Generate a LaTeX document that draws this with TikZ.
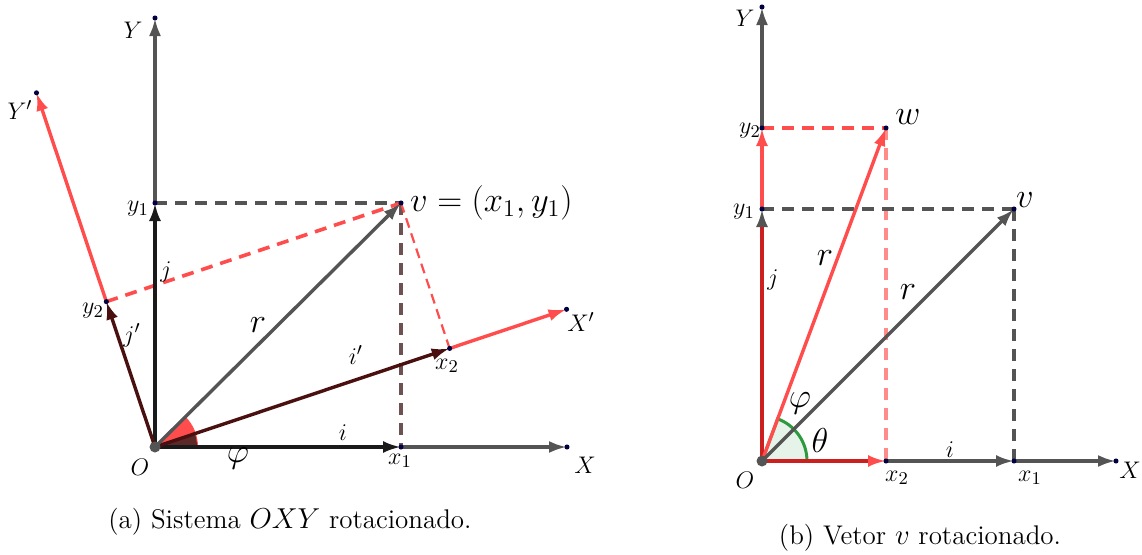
\documentclass[tikz,border=0pt]{standalone}
\usepackage{amsmath,amssymb}
\usetikzlibrary{arrows.meta,positioning,calc}
\definecolor{cinza}{HTML}{545454}
\definecolor{preto}{HTML}{1A1A1A}
\definecolor{vinho}{HTML}{4A1010}
\definecolor{verm}{HTML}{FF4D4D}
\definecolor{vermesc}{HTML}{CC1F1F}
\definecolor{marrom}{HTML}{6E5252}
\definecolor{verde}{HTML}{2E9A3E}
\tikzset{
  ponto/.style={circle,fill=black!75!blue,inner sep=0.9pt},
  seta/.style={-{Latex[length=9pt,width=6pt]}},
  eixo/.style={line width=1.8pt,draw=cinza},
  vet/.style={line width=1.7pt},
  trac/.style={line width=1.8pt,dash pattern=on 6pt off 4pt},
  peq/.style={font=\fontsize{13}{15}\selectfont},
  gde/.style={font=\fontsize{17}{20}\selectfont},
  leg/.style={font=\fontsize{13.5}{16}\selectfont},
}
\begin{document}
\begin{tikzpicture}[x=0.5pt,y=0.5pt]
  \useasboundingbox (0,0) rectangle (1142,554);
  % (a) sistema rotacionado
  \coordinate (O) at (155,107);
  \coordinate (X) at (567,107);
  \coordinate (Y) at (155,536);
  \coordinate (x1) at (401,107);
  \coordinate (y1) at (155,351);
  \coordinate (v) at (401,351);
  \begin{scope}[shift={(O)},rotate=18.5]
    \coordinate (x2) at (310.7,0);
    \coordinate (Xl) at (434,0);
    \coordinate (y2) at (0,153.3);
    \coordinate (Yl) at (0,373.5);
  \end{scope}
  \draw[eixo,seta] (y1) -- (Y);
  \draw[eixo,seta] (x1) -- (X);
  \draw[vet,verm,seta] (y2) -- (Yl);
  \draw[vet,verm,seta] (x2) -- (Xl);
  \draw[trac,cinza] (y1) -- (v);
  \draw[trac,marrom] (v) -- (x1);
  \draw[trac,verm] (y2) -- (v);
  \draw[verm,line width=1.1pt,dash pattern=on 5pt off 3pt] (v) -- (x2);
  \fill[verm,draw=verm,line width=1pt] (O) -- ++(42,0) arc[start angle=0,end angle=45,radius=42] -- cycle;
  \fill[vinho!90] (O) -- ++(42,0) arc[start angle=0,end angle=18.5,radius=42] -- cycle;
  \draw[vet,preto,seta] (O) -- (y1);
  \draw[vet,preto,seta] (O) -- (x1);
  \draw[vet,vinho,seta] (O) -- (x2);
  \draw[vet,vinho,seta] (O) -- (y2);
  \draw[vet,cinza,seta] (O) -- (v);
  \fill[cinza] (O) circle (5.5);
  \foreach \p in {X,Y,x1,y1,v,x2,y2,Xl,Yl} \node[ponto] at (\p) {};
  \node[peq] (lY) at (133,524) {$Y$};
  \node[peq] (lYl) at (20,444) {$Y'$};
  \node[peq] (ly1) at (138,345) {$y_1$};
  \node[gde,right=1pt of v] (lv) {$v=(x_1,y_1)$};
  \node[peq] (lj) at (166,282) {$j$};
  \node[peq] (ly2) at (93,243) {$y_2$};
  \node[peq] (ljl) at (132,219) {$j'$};
  \node[gde] (lr) at (258,229) {$r$};
  \node[peq] (lil) at (356,199) {$i'$};
  \node[peq] (lx2) at (447,188) {$x_2$};
  \node[peq] (lXl) at (581,232) {$X'$};
  \node[font=\fontsize{16}{18}\selectfont] (lphi) at (238,96) {$\varphi$};
  \node[peq] (li) at (343,121) {$i$};
  \node[peq] (lO) at (140,87) {$O$};
  \node[peq] (lx1) at (400,93) {$x_1$};
  \node[peq] (lX) at (585,89) {$X$};
  \node[leg] (capa) at (290,32) {(a) Sistema $OXY$ rotacionado.};
  % (b) vetor rotacionado
  \coordinate (O2) at (762,93);
  \coordinate (X2) at (1116,93);
  \coordinate (Y2) at (762,547);
  \coordinate (a1) at (1014,93);
  \coordinate (a2) at (886,93);
  \coordinate (b1) at (762,345);
  \coordinate (b2) at (762,426);
  \coordinate (v2) at (1014,345);
  \coordinate (w) at (886,426);
  \draw[eixo,seta] (a1) -- (X2);
  \draw[eixo,seta] (b2) -- (Y2);
  \draw[trac,verm] (b2) -- (w);
  \draw[trac,verm!65] (w) -- (a2);
  \draw[trac,cinza] (b1) -- (v2);
  \draw[trac,cinza] (v2) -- (a1);
  \fill[verde!12,draw=verde,line width=1.5pt] (O2) -- ++(45,0) arc[start angle=0,end angle=69.6,radius=45] -- cycle;
  \draw[vet,cinza,seta] (a2) -- (a1);
  \draw[vet,vermesc,-{Latex[length=9pt,width=6pt,color=verm]}] (O2) -- (a2);
  \draw[vet,verm,seta] (b1) -- (b2);
  \draw[vet,vermesc,-{Latex[length=9pt,width=6pt,color=cinza]}] (O2) -- (b1);
  \draw[vet,verm,seta] (O2) -- (w);
  \draw[vet,cinza,seta] (O2) -- (v2);
  \fill[cinza] (O2) circle (5.5);
  \foreach \p in {X2,Y2,a1,a2,b1,b2,v2,w} \node[ponto] at (\p) {};
  \node[peq] (lY2) at (745,536) {$Y$};
  \node[peq] (ly22) at (750,423) {$y_2$};
  \node[gde] (lw) at (908,437) {$w$};
  \node[gde] (lv2) at (1025,354) {$v$};
  \node[peq] (ly12) at (744,342) {$y_1$};
  \node[gde] (lr2) at (825,296) {$r$};
  \node[peq] (lj2) at (773,274) {$j$};
  \node[gde] (lr3) at (908,262) {$r$};
  \node[gde] (lphi2) at (800,151) {$\varphi$};
  \node[gde] (ltheta) at (820,114) {$\theta$};
  \node[peq] (li2) at (950,104) {$i$};
  \node[peq] (lO2) at (745,74) {$O$};
  \node[peq] (lx22) at (897,76) {$x_2$};
  \node[peq] (lx12) at (1030,76) {$x_1$};
  \node[peq] (lX2) at (1130,84) {$X$};
  \node[leg] (capb) at (920,16) {(b) Vetor $v$ rotacionado.};
\end{tikzpicture}
\end{document}
